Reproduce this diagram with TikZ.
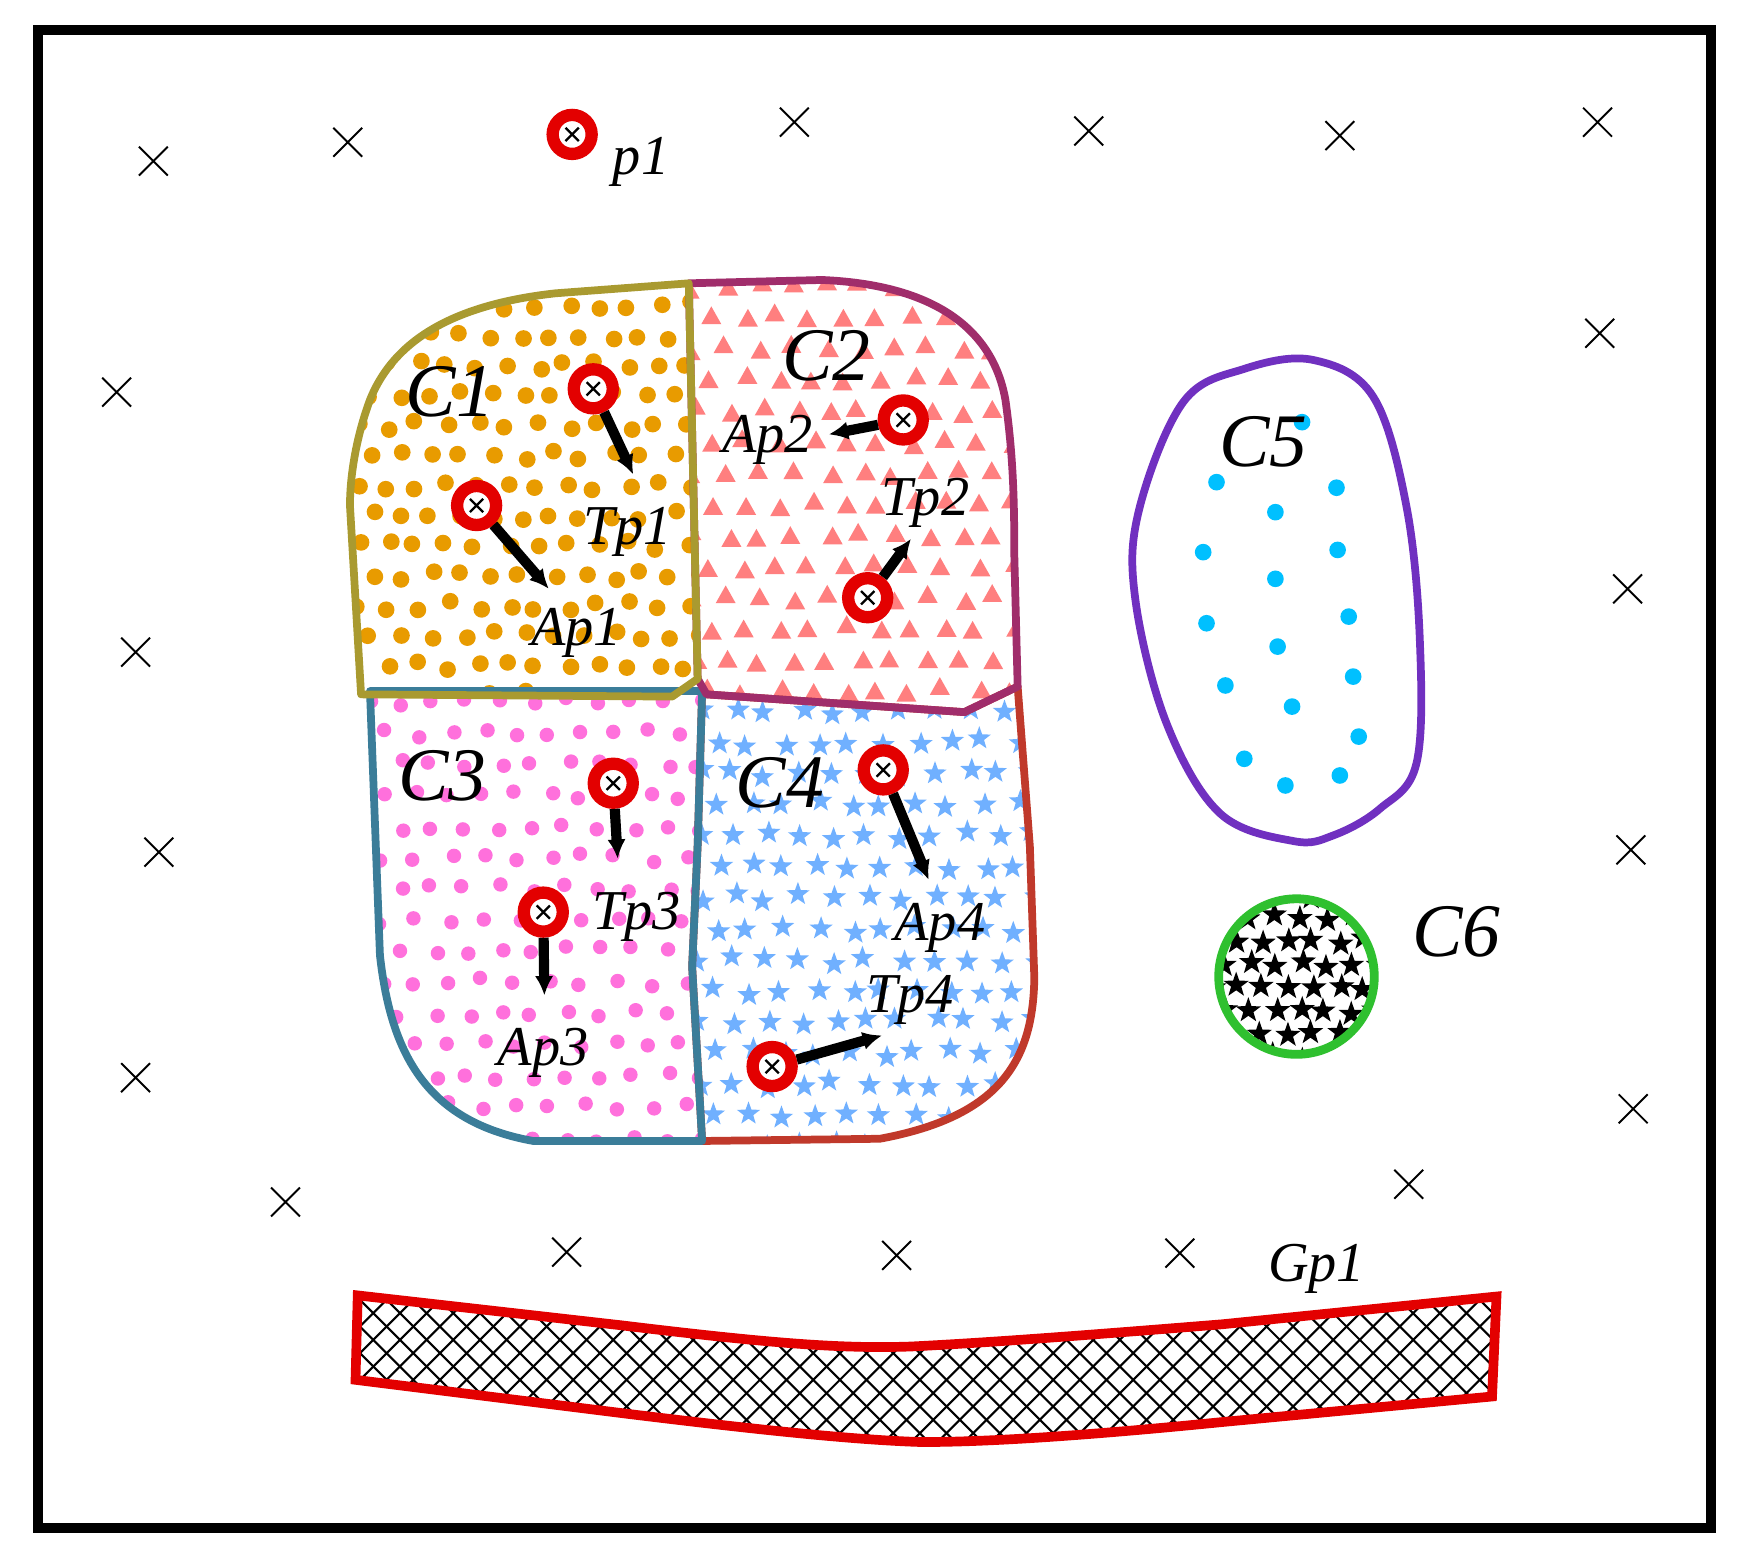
\documentclass[tikz,border=0pt]{standalone}
\usepackage{fontspec}
\setmainfont{Liberation Serif}
\usetikzlibrary{arrows.meta}
\definecolor{olive1}{HTML}{A99A30}
\definecolor{plum1}{HTML}{A02D6B}
\definecolor{teal1}{HTML}{3B7D99}
\definecolor{rust1}{HTML}{C0392B}
\definecolor{violet1}{HTML}{7030C0}
\definecolor{green1}{HTML}{2FC02F}
\definecolor{red1}{HTML}{E30000}
\definecolor{dotorange}{HTML}{E89B00}
\definecolor{trisalmon}{HTML}{FF7F7F}
\definecolor{dotpink}{HTML}{FF70DC}
\definecolor{starblue}{HTML}{70B0FF}
\definecolor{dotcyan}{HTML}{00C0FF}
\def\pathCOne{(620,255) -- (500,264) .. controls (410,274) and (355,305) .. (333,360) .. controls (320,395) and (315,430) .. (315,455) -- (320,540) -- (325,625) -- (605,627) -- (628,611) -- cycle}
\def\pathCTwo{(620,255) -- (740,252) .. controls (835,256) and (893,292) .. (905,360) .. controls (912,410) and (913,450) .. (913,500) -- (916,618) -- (868,641) -- (636,625) -- (628,611) -- cycle}
\def\pathCThree{(333,622) -- (632,622) -- (628,760) -- (623,870) -- (632,1027) -- (480,1027) .. controls (385,1010) and (352,950) .. (342,860) -- cycle}
\def\pathCFour{(632,622) -- (636,625) -- (868,641) -- (916,618) -- (927,762) -- (931,880) .. controls (930,955) and (900,1005) .. (792,1025) -- (632,1027) -- (623,870) -- (628,760) -- cycle}
\def\pathCFive{plot[smooth cycle, tension=0.6] coordinates {(1182,324) (1236,357) (1266,456) (1278,576) (1275,687) (1242,728) (1200,752) (1164,757) (1098,732) (1050,651) (1022,540) (1025,460) (1065,362) (1120,332)}}
\def\pathBand{(322,1166) -- (560,1193) .. controls (700,1210) and (760,1214) .. (820,1212) .. controls (900,1208) and (1000,1200) .. (1100,1192) -- (1347,1167) -- (1343,1257) -- (1100,1280) .. controls (1000,1290) and (900,1298) .. (830,1298) .. controls (760,1296) and (650,1283) .. (560,1272) -- (320,1242) -- cycle}
\begin{document}
\begin{tikzpicture}[x=0.0222cm,y=-0.0222cm,
  region/.style={line width=4.4pt, line join=round},
  redring/.style={circle, draw=red1, fill=white, line width=7pt, minimum size=0.78cm, inner sep=0pt},
  arr/.style={line width=5.8pt, -{Latex[length=11pt,width=10.5pt]}},
  bigl/.style={font=\fontsize{43}{45}\selectfont\itshape, inner sep=0pt},
  smalll/.style={font=\fontsize{32}{34}\selectfont\itshape, inner sep=0pt},
  thincross/.style={line width=1.1pt},
  xin/.style={line width=1.3pt},
  pics/fivestar/.style 2 args={code={\fill (270:#1) -- (306:#2) -- (342:#1) -- (18:#2) -- (54:#1) -- (90:#2) -- (126:#1) -- (162:#2) -- (198:#1) -- (234:#2) -- cycle;}}
]
\useasboundingbox (0,0) rectangle (1568,1407);
\fill[white] (0,0) rectangle (1568,1407);
\pgfmathsetseed{7}
% C1 fill
\begin{scope}
\clip \pathCOne;
\foreach \i in {0,...,12}{\foreach \j in {0,...,14}{
  \pgfmathsetmacro\px{308+\i*27+mod(\j,2)*13.5+5*rand}
  \pgfmathsetmacro\py{248+\j*27+4*rand}
  \fill[dotorange] (\px,\py) circle[radius=7.5];
}}
\end{scope}
% C2 fill
\begin{scope}
\clip \pathCTwo;
\foreach \i in {0,...,10}{\foreach \j in {0,...,13}{
  \pgfmathsetmacro\px{625+\i*30+mod(\j,2)*15+5*rand}
  \pgfmathsetmacro\py{258+\j*28+4*rand}
  \fill[trisalmon] (\px-9,\py+7) -- (\px+9,\py+7) -- (\px,\py-9) -- cycle;
}}
\end{scope}
% C3 fill
\begin{scope}
\clip \pathCThree;
\foreach \i in {0,...,10}{\foreach \j in {0,...,14}{
  \pgfmathsetmacro\px{330+\i*30+mod(\j,2)*15+5*rand}
  \pgfmathsetmacro\py{632+\j*28+4*rand}
  \fill[dotpink] (\px,\py) circle[radius=6.5];
}}
\end{scope}
% C4 fill
\begin{scope}
\clip \pathCFour;
\foreach \i in {0,...,10}{\foreach \j in {0,...,14}{
  \pgfmathsetmacro\px{630+\i*30+mod(\j,2)*15+5*rand}
  \pgfmathsetmacro\py{640+\j*28+4*rand}
  \pic[starblue] at (\px,\py) {fivestar={11}{4.5}};
}}
\end{scope}
% C5 dots
\foreach \p in {(1095,434),(1203,439),(1148,461),(1083,497),(1204,495),(1148,521),(1086,561),(1214,555),(1150,582),(1103,617),(1218,609),(1163,636),(1120,683),(1223,663),(1157,707),(1206,698),(1172,380)}{
  \fill[dotcyan] \p circle[radius=7.5];
}
% C6 stars
\begin{scope}
\clip (1167,879) circle[radius=68];
\foreach \i in {0,...,7}{\foreach \j in {0,...,7}{
  \pgfmathsetmacro\px{1090+\i*23+mod(\j,2)*11.5+3*rand}
  \pgfmathsetmacro\py{805+\j*21+3*rand}
  \pic[black] at (\px,\py) {fivestar={12}{4.8}};
}}
\end{scope}
% band hatch
\begin{scope}
\clip \pathBand;
\foreach \k in {0,...,60}{
  \draw[line width=1.2pt] (140+\k*24,1130) -- ++(200,200);
  \draw[line width=1.2pt] (140+\k*24,1330) -- ++(200,-200);
}
\end{scope}
% outlines
\draw[region, rust1] \pathCFour;
\draw[region, teal1] \pathCThree;
\draw[region, plum1] \pathCTwo;
\draw[region, olive1] \pathCOne;
\draw[region, violet1] \pathCFive;
\draw[green1, line width=5pt] (1167,879) circle[radius=70];
\draw[red1, line width=5.5pt, line join=miter] \pathBand;
% markers
\node[redring] (mp1) at (515,121) {};
\node[redring] (m1a) at (534,350) {};
\node[redring] (m1b) at (429,455) {};
\node[redring] (m2a) at (813,378) {};
\node[redring] (m2b) at (781,538) {};
\node[redring] (m3a) at (552,705) {};
\node[redring] (m3b) at (489,821) {};
\node[redring] (m4a) at (795,693) {};
\node[redring] (m4b) at (695,960) {};
\foreach \m in {mp1,m1a,m1b,m2a,m2b,m3a,m3b,m4a,m4b}{
  \draw[xin] (\m.center) +(-6,-6) -- +(6,6) +(-6,6) -- +(6,-6);
}
\coordinate (e1a) at (570,427);
\coordinate (e1b) at (494,530);
\coordinate (e2a) at (746,391);
\coordinate (e2b) at (820,485);
\coordinate (e3a) at (556,773);
\coordinate (e3b) at (490,896);
\coordinate (e4a) at (836,792);
\coordinate (e4b) at (794,932);
\draw[arr] (m1a) -- (e1a);
\draw[arr] (m1b) -- (e1b);
\draw[arr] (m2a) -- (e2a);
\draw[arr] (m2b) -- (e2b);
\draw[arr] (m3a) -- (e3a);
\draw[arr] (m3b) -- (e3b);
\draw[arr] (m4a) -- (e4a);
\draw[arr] (m4b) -- (e4b);
% labels
\node[bigl] (lc1) at (405,353) {C1};
\node[bigl] (lc2) at (744,320) {C2};
\node[bigl] (lc3) at (398,698) {C3};
\node[bigl] (lc4) at (702,705) {C4};
\node[bigl] (lc5) at (1137,398) {C5};
\node[bigl] (lc6) at (1311,839) {C6};
\node[smalll] (lp1) at (577,146) {p1};
\node[smalll] (ltp1) at (565,479) {Tp1};
\node[smalll] (lap1) at (519,570) {Ap1};
\node[smalll] (lap2) at (691,396) {Ap2};
\node[smalll] (ltp2) at (833,453) {Tp2};
\node[smalll] (ltp3) at (573,825) {Tp3};
\node[smalll] (lap3) at (489,948) {Ap3};
\node[smalll] (lap4) at (846,835) {Ap4};
\node[smalll] (ltp4) at (819,900) {Tp4};
\node[smalll] (lgp1) at (1185,1142) {Gp1};
% crosses
\foreach \p in {(138,145),(313,128),(715,110),(980,118),(1206,122),(1438,110),(105,353),(1440,300),(122,587),(1465,530),(143,767),(1468,765),(122,970),(1470,998),(257,1082),(1268,1066),(510,1127),(807,1130),(1062,1128)}{
  \draw[thincross] \p +(-13,-13) -- +(13,13) +(-13,13) -- +(13,-13);
}
% frame
\draw[line width=5.7pt] (34,27) rectangle (1540,1375);
\end{tikzpicture}
\end{document}
